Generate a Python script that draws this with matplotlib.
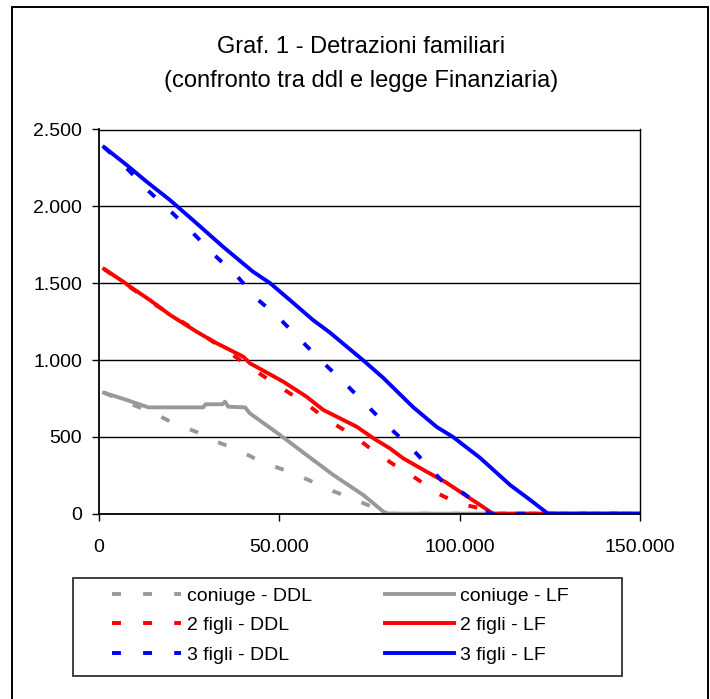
import matplotlib
matplotlib.use("Agg")
import matplotlib.pyplot as plt
from matplotlib.ticker import FuncFormatter
from matplotlib.patches import Rectangle
from matplotlib.lines import Line2D

plt.rcParams['font.family'] = ['Liberation Sans', 'DejaVu Sans']

# ---- data ----
coniuge_ddl_x = [1500, 8200, 14700, 20600, 27200, 33000, 39200, 45200, 51600, 57700, 64100, 70100, 76500, 78500, 150000]
coniuge_ddl_y = [787, 720, 662, 590, 531, 466, 408, 336, 283, 224, 154, 101, 37, 0, 0]

coniuge_lf_x = [1500, 7750, 13750, 29000, 29600, 34300, 35000, 35900, 40550, 41900, 43800, 50250, 57600, 65000, 73300, 76100, 78900, 80300, 150000]
coniuge_lf_y = [787, 740, 692, 692, 712, 712, 729, 696, 692, 653, 621, 512, 382, 252, 122, 68, 13, 0, 0]

figli2_ddl_x = [1500, 14200, 19800, 27300, 33000, 39200, 45200, 51600, 57700, 63500, 70100, 76000, 82100, 88200, 93700, 99500, 105700, 107500, 150000]
figli2_ddl_y = [1592, 1383, 1297, 1188, 1098, 1000, 902, 804, 712, 608, 516, 412, 314, 226, 135, 68, 35, 0, 0]

figli2_lf_x = [1500, 6800, 8700, 14200, 19800, 27150, 32700, 40050, 41900, 51150, 57600, 62250, 71500, 76100, 80700, 84400, 90900, 95950, 102900, 109300, 150000]
figli2_lf_y = [1592, 1510, 1477, 1390, 1293, 1184, 1109, 1022, 979, 859, 761, 675, 566, 491, 425, 360, 273, 208, 100, 0, 0]

figli3_ddl_x = [1500, 7850, 13700, 19800, 25800, 32300, 38300, 43900, 49700, 56300, 62700, 68800, 74600, 80200, 85500, 90500, 95400, 101000, 106500, 108500, 150000]
figli3_ddl_y = [2385, 2246, 2102, 1971, 1834, 1678, 1547, 1397, 1280, 1122, 972, 835, 698, 567, 455, 330, 206, 134, 37, 0, 0]

figli3_lf_x = [1500, 7750, 13300, 19750, 27150, 34450, 42750, 47450, 53000, 59400, 64000, 73200, 78800, 87100, 93700, 98200, 105700, 114000, 119600, 124500, 150000]
figli3_lf_y = [2385, 2269, 2160, 2041, 1889, 1737, 1575, 1501, 1390, 1260, 1180, 1000, 885, 694, 564, 499, 363, 187, 89, 0, 0]

labels = ["coniuge - DDL", "coniuge - LF", "2 figli - DDL", "2 figli - LF", "3 figli - DDL", "3 figli - LF"]
title = "Graf. 1 - Detrazioni familiari\n(confronto tra ddl e legge Finanziaria)"
x_ticks = [0, 50000, 100000, 150000]
y_ticks = [0, 500, 1000, 1500, 2000, 2500]

GRAY = "#999999"
RED = "#FF0000"
BLUE = "#0000FF"

W, H = 710, 699
fig = plt.figure(figsize=(W / 100, H / 100), dpi=100)
fig.patch.set_facecolor("white")

# outer chart frame
fig.add_artist(Rectangle((12 / W, -0.01), (708 - 12) / W, 1 - 7 / H + 0.01,
                         transform=fig.transFigure, fill=False,
                         edgecolor="#000000", linewidth=1.4, zorder=0))

left, right, bottom, top = 98.7, 640, 513.7, 129.5
ax = fig.add_axes([left / W, 1 - bottom / H, (right - left) / W, (bottom - top) / H])

dash = (2.3, 5.7)
lw = 2.8
ax.plot(coniuge_ddl_x, coniuge_ddl_y, color=GRAY, lw=lw, dashes=dash)
ax.plot(coniuge_lf_x, coniuge_lf_y, color=GRAY, lw=lw)
ax.plot(figli2_ddl_x, figli2_ddl_y, color=RED, lw=lw, dashes=dash)
ax.plot(figli2_lf_x, figli2_lf_y, color=RED, lw=lw)
ax.plot(figli3_ddl_x, figli3_ddl_y, color=BLUE, lw=lw, dashes=dash)
ax.plot(figli3_lf_x, figli3_lf_y, color=BLUE, lw=lw)

ax.set_xlim(0, 150000)
ax.set_ylim(0, 2500)
ax.set_xticks(x_ticks)
ax.set_yticks(y_ticks)
fmt = FuncFormatter(lambda v, p: f"{int(v):,}".replace(",", "."))
ax.xaxis.set_major_formatter(fmt)
ax.yaxis.set_major_formatter(fmt)
ax.grid(axis='y', color='black', linewidth=1.0)
ax.set_axisbelow(True)
for s in ax.spines.values():
    s.set_color('black')
    s.set_linewidth(1.0)
ax.spines['left'].set_linewidth(1.3)
ax.spines['bottom'].set_linewidth(1.3)
ax.tick_params(axis='both', direction='out', length=5, width=1, color='black',
               labelsize=14, labelcolor='black')
ax.tick_params(axis='x', pad=13)
ax.tick_params(axis='y', pad=7)

fig.text(361 / W, 1 - 64 / H, title, ha='center', va='center', fontsize=17,
         linespacing=1.68, color='black')

# legend
handles = [
    Line2D([], [], color=GRAY, lw=lw, dashes=dash),
    Line2D([], [], color=RED, lw=lw, dashes=dash),
    Line2D([], [], color=BLUE, lw=lw, dashes=dash),
    Line2D([], [], color=GRAY, lw=lw),
    Line2D([], [], color=RED, lw=lw),
    Line2D([], [], color=BLUE, lw=lw),
]
leg_labels = [labels[0], labels[2], labels[4], labels[1], labels[3], labels[5]]
fig.add_artist(Rectangle((73 / W, 1 - 676 / H), (622 - 73) / W, (676 - 578) / H,
                         transform=fig.transFigure, fill=False,
                         edgecolor="#333333", linewidth=1.3))
fig.legend(handles, leg_labels, loc='upper left', bbox_to_anchor=(112 / W, 1 - 587 / H),
           ncol=2, frameon=False, fontsize=14, handlelength=3.55, handletextpad=0.3,
           columnspacing=3.75, labelspacing=0.62, borderpad=0, borderaxespad=0)

fig.savefig("out.png", dpi=100, facecolor="white")
